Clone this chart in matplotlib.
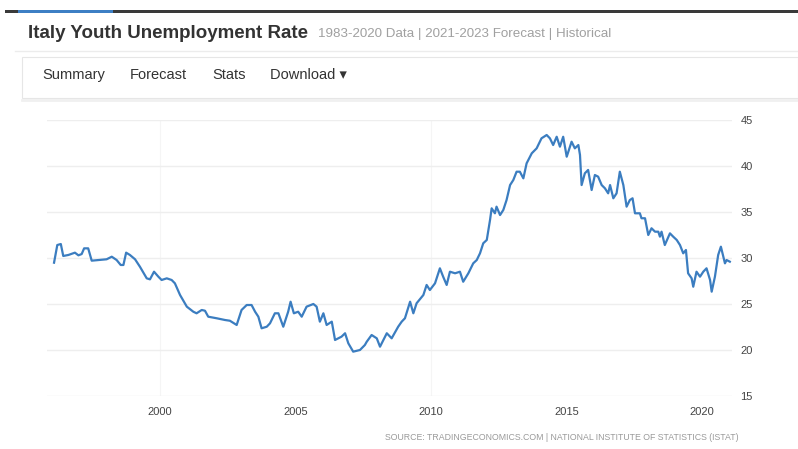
import matplotlib.pyplot as plt
from matplotlib.patches import Rectangle
from matplotlib.lines import Line2D

# Italy youth unemployment rate (%), monthly-ish readings
years = [
    1996.09, 1996.21, 1996.34, 1996.43, 1996.62, 1996.86, 1996.99, 1997.11, 1997.20, 1997.35,
    1997.48, 1997.72, 1998.03, 1998.22, 1998.40, 1998.55, 1998.65, 1998.75, 1998.89, 1999.08,
    1999.26, 1999.51, 1999.63, 1999.78, 1999.94, 2000.06, 2000.25, 2000.43, 2000.55, 2000.74,
    2000.99, 2001.23, 2001.35, 2001.54, 2001.66, 2001.78, 2002.09, 2002.40, 2002.58, 2002.83,
    2003.01, 2003.20, 2003.38, 2003.51, 2003.63, 2003.75, 2003.94, 2004.06, 2004.24, 2004.37,
    2004.55, 2004.73, 2004.82, 2004.94, 2005.10, 2005.23, 2005.41, 2005.66, 2005.78, 2005.90,
    2006.03, 2006.15, 2006.34, 2006.46, 2006.70, 2006.83, 2006.95, 2007.13, 2007.38, 2007.56,
    2007.63, 2007.81, 2008.00, 2008.12, 2008.37, 2008.55, 2008.79, 2008.92, 2009.04, 2009.23,
    2009.35, 2009.47, 2009.72, 2009.84, 2009.96, 2010.15, 2010.33, 2010.45, 2010.58, 2010.70,
    2010.89, 2011.07, 2011.19, 2011.38, 2011.56, 2011.69, 2011.81, 2011.93, 2012.06, 2012.18,
    2012.24, 2012.36, 2012.42, 2012.55, 2012.67, 2012.79, 2012.92, 2013.04, 2013.16, 2013.28,
    2013.41, 2013.53, 2013.72, 2013.90, 2014.08, 2014.27, 2014.39, 2014.51, 2014.64, 2014.76,
    2014.88, 2015.01, 2015.19, 2015.31, 2015.44, 2015.50, 2015.56, 2015.68, 2015.80, 2015.93,
    2016.05, 2016.17, 2016.30, 2016.42, 2016.54, 2016.61, 2016.73, 2016.85, 2016.97, 2017.10,
    2017.22, 2017.34, 2017.44, 2017.53, 2017.71, 2017.77, 2017.90, 2018.02, 2018.14, 2018.27,
    2018.39, 2018.45, 2018.51, 2018.63, 2018.82, 2018.94, 2019.07, 2019.19, 2019.31, 2019.41,
    2019.49, 2019.62, 2019.68, 2019.80, 2019.93, 2020.05, 2020.17, 2020.30, 2020.36, 2020.48,
    2020.60, 2020.70, 2020.85, 2020.91, 2021.03,
]
rates = [
    29.49, 31.41, 31.52, 30.22, 30.33, 30.58, 30.29, 30.43, 31.05, 31.05,
    29.71, 29.78, 29.86, 30.14, 29.78, 29.24, 29.24, 30.58, 30.33, 29.86,
    29.05, 27.79, 27.68, 28.51, 27.97, 27.61, 27.79, 27.61, 27.25, 25.98,
    24.71, 24.16, 23.99, 24.35, 24.27, 23.62, 23.45, 23.26, 23.18, 22.72,
    24.35, 24.89, 24.89, 24.16, 23.62, 22.36, 22.53, 22.90, 23.99, 23.99,
    22.53, 24.16, 25.25, 23.99, 24.16, 23.62, 24.71, 25.00, 24.71, 23.08,
    23.99, 22.72, 23.08, 21.09, 21.45, 21.82, 20.73, 19.82, 20.00, 20.54,
    20.90, 21.63, 21.27, 20.36, 21.82, 21.27, 22.53, 23.08, 23.45, 25.25,
    23.99, 25.08, 25.98, 27.07, 26.52, 27.25, 28.88, 27.97, 27.07, 28.51,
    28.34, 28.51, 27.42, 28.34, 29.42, 29.78, 30.51, 31.60, 31.96, 34.13,
    35.40, 34.86, 35.58, 34.67, 35.22, 36.30, 37.93, 38.48, 39.38, 39.38,
    38.66, 40.29, 41.38, 41.92, 43.01, 43.37, 43.01, 42.28, 43.18, 42.10,
    43.18, 41.01, 42.64, 41.92, 42.28, 41.20, 37.93, 39.21, 39.57, 37.39,
    39.02, 38.84, 37.93, 37.58, 37.03, 37.93, 36.49, 37.03, 39.38, 37.93,
    35.58, 36.30, 36.49, 34.86, 34.86, 34.32, 34.32, 32.50, 33.23, 32.86,
    32.86, 32.32, 32.86, 31.41, 32.68, 32.32, 31.96, 31.41, 30.51, 30.87,
    28.34, 27.79, 26.88, 28.51, 27.97, 28.51, 28.88, 27.61, 26.34, 27.97,
    30.33, 31.23, 29.42, 29.78, 29.60,
]

x_ticks = [2000, 2005, 2010, 2015, 2020]
y_ticks = [15, 20, 25, 30, 35, 40, 45]

title = "Italy Youth Unemployment Rate"
subtitle = "1983-2020 Data | 2021-2023 Forecast | Historical"
nav_items = ["Summary", "Forecast", "Stats", "Download \u25BE"]
source = "SOURCE: TRADINGECONOMICS.COM | NATIONAL INSTITUTE OF STATISTICS (ISTAT)"

W, H = 798, 449
plt.rcParams["font.family"] = ["Liberation Sans", "DejaVu Sans"]

fig = plt.figure(figsize=(W / 100, H / 100), dpi=100)
fig.patch.set_facecolor("white")


def fx(px):
    return px / W


def fy(py):
    return 1 - py / H


# page chrome: dark top bar with blue tab
fig.add_artist(Rectangle((fx(5), fy(13)), fx(793), 3 / H, transform=fig.transFigure,
                         color="#3a3a3a", lw=0))
fig.add_artist(Rectangle((fx(18), fy(13)), fx(95), 3 / H, transform=fig.transFigure,
                         color="#3d7fc4", lw=0))

fig.text(fx(28), fy(34), title, fontsize=13.5, fontweight="bold", color="#333333",
         va="center", ha="left")
fig.text(fx(318), fy(34), subtitle, fontsize=9.6, color="#a0a0a0", va="center", ha="left")
fig.add_artist(Line2D([fx(15), fx(798)], [fy(51), fy(51)], transform=fig.transFigure,
                      color="#ececec", lw=1))

# nav bar box
fig.add_artist(Rectangle((fx(22), fy(98)), fx(776), 41 / H, transform=fig.transFigure,
                         facecolor="white", edgecolor="#e6e6e6", lw=0.8))
fig.add_artist(Line2D([fx(22), fx(798)], [fy(99.5), fy(99.5)], transform=fig.transFigure,
                      color="#f0f0f0", lw=2))
for label, px in zip(nav_items, [42, 130, 212, 270]):
    fig.text(fx(px), fy(75), label, fontsize=10.5, color="#333333", va="center", ha="left")

# chart
ax = fig.add_axes([fx(47), fy(396), fx(732 - 47), (396 - 120) / H])
ax.plot(years, rates, color="#3b7dc0", lw=1.6, solid_joinstyle="round")
ax.set_xlim(1995.83, 2021.11)
ax.set_ylim(15, 45)
ax.set_xticks(x_ticks)
ax.set_yticks(y_ticks)
ax.yaxis.tick_right()
ax.grid(True, axis="y", color="#eeeeee", lw=1)
for xv in [2000, 2010]:
    ax.axvline(xv, color="#f5f5f5", lw=0.8, zorder=0)
ax.set_axisbelow(True)
for s in ax.spines.values():
    s.set_visible(False)
ax.tick_params(axis="both", length=0, labelsize=8, labelcolor="#444444")
ax.tick_params(axis="x", pad=8)
ax.tick_params(axis="y", pad=6)

fig.text(fx(562), fy(437), source, fontsize=6.3, color="#9a9a9a", ha="center", va="center")

fig.savefig("out.png", dpi=100)
